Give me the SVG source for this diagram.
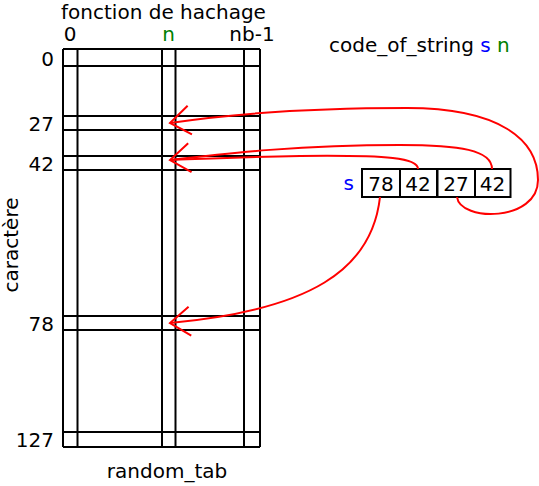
<svg xmlns="http://www.w3.org/2000/svg" width="539" height="486" viewBox="0 0 539 486">
<defs>
<style>
text{font-family:"DejaVu Sans","Liberation Sans",sans-serif;font-size:20px;fill:#000}
.g{stroke:#000;stroke-width:2;fill:none}
.c{stroke:#f00;stroke-width:2;fill:none}
.m{marker-end:url(#ah)}
.blue{fill:#0000ff}
.green{fill:#008000}
.box{fill:#fff;stroke:#000;stroke-width:2}
</style>
<marker id="ah" markerUnits="userSpaceOnUse" orient="auto" markerWidth="40" markerHeight="40" refX="0" refY="0" viewBox="-30 -20 40 40" overflow="visible">
<path d="M-20,-14.5 L0,0 L-20,14.5" fill="none" stroke="#f00" stroke-width="2"/>
</marker>
</defs>
<rect width="539" height="486" fill="#fff"/>
<g id="random_tab">
<path class="g" d="M63,49V447M77.5,49V447M162,49V447M175.5,49V447M244,49V447M260,49V447M63,49H260M63,66H260M63,116H260M63,130H260M63,156H260M63,170H260M63,316H260M63,330H260M63,432H260M63,447H260"/>
<text x="163.5" y="19" text-anchor="middle">fonction de hachage</text>
<text x="70" y="41" text-anchor="middle">0</text>
<text x="168.5" y="41" text-anchor="middle" class="green">n</text>
<text x="252" y="41" text-anchor="middle">nb-1</text>
<text x="54" y="66" text-anchor="end">0</text>
<text x="54" y="131" text-anchor="end">27</text>
<text x="54" y="171" text-anchor="end">42</text>
<text x="54" y="331" text-anchor="end">78</text>
<text x="54" y="447" text-anchor="end">127</text>
<text transform="translate(18,245) rotate(-90)" text-anchor="middle">caractère</text>
<text x="167" y="478" text-anchor="middle">random_tab</text>
</g>
<g id="code_of_string">
<text x="329" y="52">code_of_string <tspan class="blue">s</tspan> <tspan class="green">n</tspan></text>
</g>
<g id="s_array">
<text x="343.5" y="190" class="blue">s</text>
<rect class="box" x="362" y="169" width="38" height="28"/>
<rect class="box" x="400" y="169" width="37" height="28"/>
<rect class="box" x="437.5" y="169" width="37.5" height="28"/>
<rect class="box" x="475" y="169" width="35.5" height="28"/>
<text x="381" y="191" text-anchor="middle">78</text>
<text x="418" y="191" text-anchor="middle">42</text>
<text x="456" y="191" text-anchor="middle">27</text>
<text x="492.5" y="191" text-anchor="middle">42</text>
</g>
<g id="connectors">
<path class="c m" d="M457,197 C460,222 538,222 538,180 C538,140 500,108 407,108 C300,108 230,114 170,123"/>
<path class="c m" d="M492,169 C492,150 460,145 400,145 C300,145 230,153 170,160"/>
<path class="c" d="M418,169 C418,158 390,155 300,156 C240,157 200,159 170,160"/>
<path class="c m" d="M380,197 C372,270 310,310 170,323"/>
</g>
</svg>
